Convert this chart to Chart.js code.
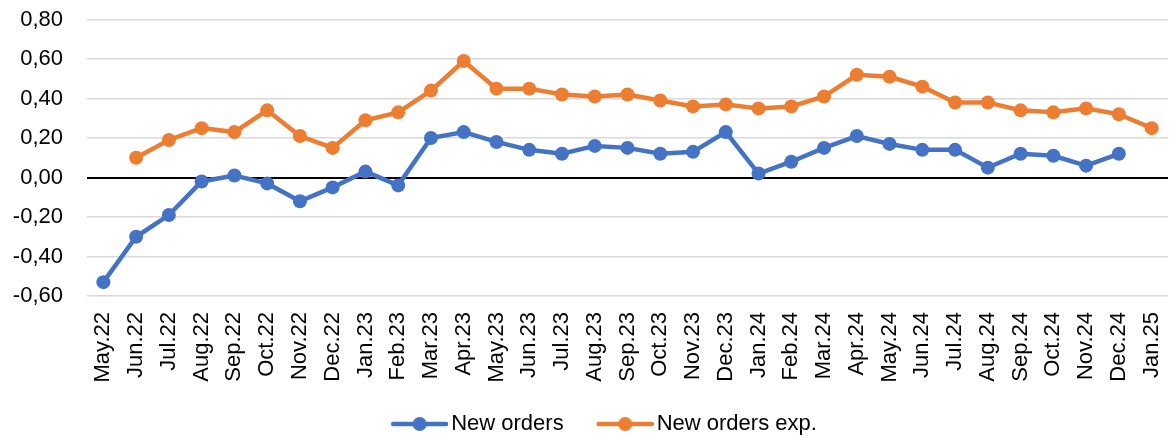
<!DOCTYPE html>
<html>
<head>
<meta charset="utf-8">
<script src="https://cdn.jsdelivr.net/npm/chart.js@4/dist/chart.umd.min.js"></script>
<style>
  html, body { margin: 0; padding: 0; background: #fff; }
  #wrap { width: 1175px; height: 436px; position: relative; }
</style>
</head>
<body>
<div id="wrap"><canvas id="c" width="1175" height="436"></canvas></div>
<script>
const categories = ["May.22","Jun.22","Jul.22","Aug.22","Sep.22","Oct.22","Nov.22","Dec.22",
  "Jan.23","Feb.23","Mar.23","Apr.23","May.23","Jun.23","Jul.23","Aug.23","Sep.23","Oct.23","Nov.23","Dec.23",
  "Jan.24","Feb.24","Mar.24","Apr.24","May.24","Jun.24","Jul.24","Aug.24","Sep.24","Oct.24","Nov.24","Dec.24",
  "Jan.25"];
const newOrders = [-0.53,-0.30,-0.19,-0.02,0.01,-0.03,-0.12,-0.05,
  0.03,-0.04,0.20,0.23,0.18,0.14,0.12,0.16,0.15,0.12,0.13,0.23,
  0.02,0.08,0.15,0.21,0.17,0.14,0.14,0.05,0.12,0.11,0.06,0.12,
  null];
const newOrdersExp = [null,0.10,0.19,0.25,0.23,0.34,0.21,0.15,
  0.29,0.33,0.44,0.59,0.45,0.45,0.42,0.41,0.42,0.39,0.36,0.37,
  0.35,0.36,0.41,0.52,0.51,0.46,0.38,0.38,0.34,0.33,0.35,0.32,
  0.25];
const yTickMin = -0.6, yTickMax = 0.8, yTickStep = 0.2;

const BLUE = '#4472C4', ORANGE = '#ED7D31';
const FONT = "'Liberation Sans', Arial, sans-serif";
const FS = 22;

function legendMarker(color) {
  const c = document.createElement('canvas');
  c.width = 88; c.height = 18;
  const g = c.getContext('2d');
  g.strokeStyle = color; g.lineWidth = 4.5; g.lineCap = 'round';
  g.beginPath(); g.moveTo(33, 9); g.lineTo(86, 9); g.stroke();
  g.fillStyle = color;
  g.beginPath(); g.arc(59.5, 9, 7, 0, Math.PI * 2); g.fill();
  return c;
}

Chart.defaults.font.family = FONT;
Chart.defaults.color = '#000';

new Chart(document.getElementById('c'), {
  type: 'line',
  data: {
    labels: categories,
    datasets: [
      { label: 'New orders', data: newOrders, borderColor: BLUE, backgroundColor: BLUE,
        borderWidth: 4.5, pointRadius: 7, pointHoverRadius: 7, pointBorderWidth: 0,
        pointStyle: 'circle', tension: 0, spanGaps: false },
      { label: 'New orders exp.', data: newOrdersExp, borderColor: ORANGE, backgroundColor: ORANGE,
        borderWidth: 4.5, pointRadius: 7, pointHoverRadius: 7, pointBorderWidth: 0,
        pointStyle: 'circle', tension: 0, spanGaps: false }
    ]
  },
  options: {
    responsive: false,
    animation: false,
    layout: { padding: { top: 19.5, right: -10, left: 0, bottom: -9 } },
    plugins: {
      tooltip: { enabled: false },
      legend: {
        position: 'bottom',
        labels: {
          font: { size: FS, family: FONT },
          color: '#000',
          usePointStyle: true,
          pointStyleWidth: 72,
          padding: 10,
          generateLabels(chart) {
            return chart.data.datasets.map((ds, i) => ({
              text: ds.label,
              fillStyle: ds.borderColor,
              strokeStyle: ds.borderColor,
              lineWidth: 0,
              pointStyle: legendMarker(ds.borderColor),
              hidden: false,
              datasetIndex: i,
              fontColor: '#000'
            }));
          }
        }
      }
    },
    scales: {
      x: {
        offset: true,
        grid: { display: false },
        border: { display: false },
        ticks: { minRotation: 90, maxRotation: 90, autoSkip: false, padding: 8,
                 font: { size: FS, family: FONT }, color: '#000' },
        afterFit(scale) {
          scale.height = 107;
          scale.paddingLeft = 0; scale.paddingRight = 0;
        }
      },
      y: {
        min: yTickMin, max: yTickMax,
        border: { display: false },
        grid: {
          drawTicks: false,
          color: ctx => (Math.abs(ctx.tick.value) < 1e-9 ? '#000000' : '#d9d9d9'),
          lineWidth: ctx => (Math.abs(ctx.tick.value) < 1e-9 ? 2 : 1.5)
        },
        ticks: {
          stepSize: yTickStep, padding: 24,
          font: { size: FS, family: FONT }, color: '#000',
          callback: v => (Math.abs(v) < 1e-9 ? 0 : v).toFixed(2).replace('.', ',')
        },
        afterFit(scale) {
          scale.width = 87;
          scale.paddingTop = 0; scale.paddingBottom = 0;
        }
      }
    }
  }
});
</script>
</body>
</html>
